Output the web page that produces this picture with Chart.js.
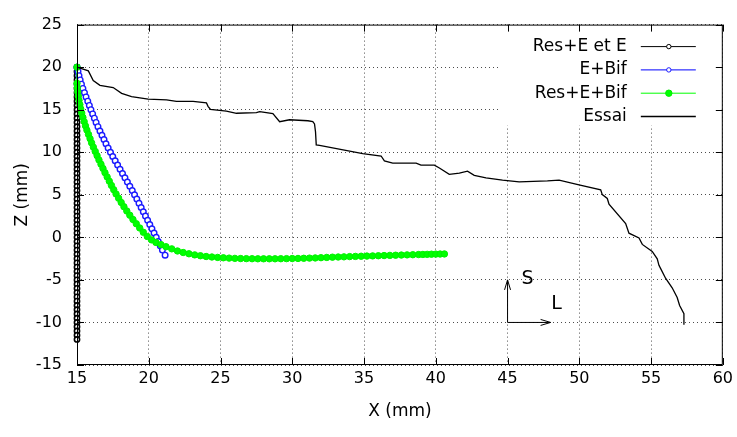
<!DOCTYPE html>
<html>
<head>
<meta charset="utf-8">
<script src="https://cdn.jsdelivr.net/npm/chart.js@4.4.0/dist/chart.umd.min.js"></script>
<style>
  body { margin: 0; background: #fff; }
</style>
</head>
<body>
<canvas id="graphe" width="737" height="437"></canvas>
<script>
'use strict';

// Res+E et E : colonne verticale a X = 15
const resEtE_x = [
  15, 15, 15, 15, 15, 15, 15, 15, 15, 15, 15, 15, 15,
  15, 15, 15, 15, 15, 15, 15, 15, 15, 15, 15, 15, 15,
  15, 15, 15, 15, 15, 15, 15, 15, 15, 15, 15, 15, 15,
  15, 15, 15, 15, 15, 15, 15, 15, 15, 15, 15, 15, 15,
  15, 15, 15, 15, 15, 15, 15, 15, 15, 15, 15, 15, 15
];
const resEtE_z = [
  20, 19.5, 19, 18.5, 18, 17.5, 17, 16.5, 16, 15.5, 15, 14.5, 14,
  13.5, 13, 12.5, 12, 11.5, 11, 10.5, 10, 9.5, 9, 8.5, 8, 7.5,
  7, 6.5, 6, 5.5, 5, 4.5, 4, 3.5, 3, 2.5, 2, 1.5, 1,
  0.5, 0, -0.5, -1, -1.5, -2, -2.5, -3, -3.5, -4, -4.5, -5, -5.5,
  -6, -6.5, -7, -7.5, -8, -8.5, -9, -9.5, -10, -10.5, -11, -11.5, -12
];

// E+Bif
const eBif_x = [
  15.00, 15.07, 15.14, 15.22, 15.31, 15.41, 15.52, 15.63, 15.75, 15.86,
  15.97, 16.09, 16.21, 16.33, 16.46, 16.60, 16.74, 16.88, 17.02, 17.17,
  17.33, 17.49, 17.66, 17.83, 18.00, 18.17, 18.34, 18.51, 18.68, 18.85,
  19.01, 19.17, 19.32, 19.47, 19.62, 19.77, 19.92, 20.07, 20.22, 20.37,
  20.52, 20.66, 20.80, 20.95, 21.14
];
const eBif_z = [
  20, 19.5, 19, 18.5, 18, 17.5, 17, 16.5, 16, 15.5,
  15, 14.5, 14, 13.5, 13, 12.5, 12, 11.5, 11, 10.5,
  10, 9.5, 9, 8.5, 8, 7.5, 7, 6.5, 6, 5.5,
  5, 4.5, 4, 3.5, 3, 2.5, 2, 1.5, 1, 0.5,
  0, -0.5, -1, -1.5, -2.1
];

// Res+E+Bif
const resEBif_x = [
  15.00, 15.00, 15.02, 15.05, 15.09, 15.14, 15.20, 15.26, 15.33, 15.41,
  15.50, 15.59, 15.69, 15.80, 15.91, 16.02, 16.14, 16.27, 16.40, 16.53,
  16.67, 16.81, 16.95, 17.10, 17.25, 17.40, 17.56, 17.72, 17.90, 18.08,
  18.27, 18.47, 18.68, 18.90, 19.13, 19.37, 19.62, 19.90, 20.20, 20.50,
  20.85, 21.20, 21.60, 22.00, 22.40, 22.80, 23.20, 23.60, 24.00, 24.40,
  24.80, 25.20, 25.60, 26.00, 26.40, 26.80, 27.20, 27.60, 28.00, 28.40,
  28.80, 29.20, 29.60, 30.00, 30.40, 30.80, 31.20, 31.60, 32.00, 32.40,
  32.80, 33.20, 33.60, 34.00, 34.40, 34.80, 35.20, 35.60, 36.00, 36.40,
  36.80, 37.20, 37.60, 38.00, 38.40, 38.80, 39.10, 39.40, 39.70, 40.00,
  40.30, 40.60
];
const resEBif_z = [
  20.0, 18.1, 17.6, 17.1, 16.6, 16.1, 15.6, 15.1, 14.6, 14.1,
  13.6, 13.1, 12.6, 12.1, 11.6, 11.1, 10.6, 10.1, 9.6, 9.1,
  8.6, 8.1, 7.6, 7.1, 6.6, 6.1, 5.6, 5.1, 4.6, 4.1,
  3.6, 3.1, 2.6, 2.1, 1.6, 1.1, 0.6, 0.1, -0.3, -0.6,
  -0.85, -1.1, -1.35, -1.6, -1.78, -1.93, -2.06, -2.16, -2.25, -2.31,
  -2.36, -2.40, -2.44, -2.47, -2.49, -2.50, -2.51, -2.52, -2.52, -2.52,
  -2.52, -2.51, -2.50, -2.49, -2.48, -2.46, -2.44, -2.42, -2.39, -2.36,
  -2.33, -2.31, -2.29, -2.26, -2.24, -2.22, -2.20, -2.18, -2.16, -2.14,
  -2.12, -2.10, -2.08, -2.06, -2.04, -2.02, -2.01, -2.00, -1.98, -1.97,
  -1.96, -1.95
];

// Essai (mesure)
const essai_x = [
  15.00, 15.79, 16.13, 16.60, 17.52, 18.11, 18.80, 19.96, 21.24, 21.93,
  23.09, 24.02, 24.13, 24.30, 25.41, 26.11, 27.50, 27.73, 28.65, 29.12,
  29.81, 31.09, 31.43, 31.55, 31.62, 31.67, 31.90, 34.91, 36.19, 36.42,
  37.00, 38.63, 38.97, 39.90, 40.25, 40.94, 41.64, 42.21, 42.68, 43.50,
  44.65, 45.81, 47.78, 48.59, 49.98, 51.49, 51.60, 51.95, 52.07, 53.23,
  53.46, 54.16, 54.39, 55.08, 55.43, 55.55, 55.67, 56.01, 56.47, 56.82,
  56.99, 57.29, 57.29
];
const essai_z = [
  20.00, 19.56, 18.43, 17.86, 17.60, 16.92, 16.54, 16.24, 16.16, 15.97,
  15.97, 15.79, 15.40, 15.03, 14.84, 14.58, 14.66, 14.77, 14.54, 13.59,
  13.82, 13.70, 13.61, 13.33, 12.39, 10.87, 10.80, 9.85, 9.56, 8.99,
  8.72, 8.72, 8.49, 8.49, 8.15, 7.40, 7.55, 7.78, 7.29, 6.98,
  6.72, 6.53, 6.64, 6.72, 6.16, 5.59, 5.02, 4.57, 3.89, 1.62,
  0.49, -0.07, -0.83, -1.66, -2.53, -3.29, -3.67, -4.80, -5.93, -7.07,
  -8.01, -8.96, -10.27
];

const xTicks = [15, 20, 25, 30, 35, 40, 45, 50, 55, 60];
const zTicks = [-15, -10, -5, 0, 5, 10, 15, 20, 25];

// Fleches S / L (coordonnees en mm)
const repereOrigine = [45, -10];
const repereS = [45, -5];
const repereL = [48, -10];

const legende = ['Res+E et E', 'E+Bif', 'Res+E+Bif', 'Essai'];

function points(xs, zs) {
  return xs.map((x, i) => ({ x: x, y: zs[i] }));
}

Chart.defaults.font.family = 'DejaVu Sans';
Chart.defaults.color = '#000';

// cache blanc derriere la legende, ticks interieurs, cadre, fleches, legende
const decor = {
  id: 'decor',
  beforeDatasetsDraw(chart) {
    const { ctx, chartArea: a } = chart;
    ctx.save();
    ctx.fillStyle = '#fff';
    ctx.fillRect(a.right - 224, a.top + 1, 223, 100);
    ctx.restore();
  },
  afterDraw(chart) {
    const { ctx, chartArea: a, scales } = chart;
    const sx = scales.x, sy = scales.y;
    ctx.save();
    ctx.strokeStyle = '#000';
    ctx.lineWidth = 1;
    ctx.beginPath();
    ctx.rect(a.left + 0.5, a.top + 0.5, a.right - a.left - 1, a.bottom - a.top - 1);
    ctx.stroke();

    ctx.beginPath();
    xTicks.forEach(v => {
      const px = Math.round(sx.getPixelForValue(v)) + 0.5;
      ctx.moveTo(px, a.bottom); ctx.lineTo(px, a.bottom - 7);
      ctx.moveTo(px, a.top); ctx.lineTo(px, a.top + 7);
    });
    zTicks.forEach(v => {
      const py = Math.round(sy.getPixelForValue(v)) + 0.5;
      ctx.moveTo(a.left, py); ctx.lineTo(a.left + 7, py);
      ctx.moveTo(a.right, py); ctx.lineTo(a.right - 7, py);
    });
    ctx.stroke();

    // repere S / L
    const ox = sx.getPixelForValue(repereOrigine[0]);
    const oy = sy.getPixelForValue(repereOrigine[1]);
    const sTop = sy.getPixelForValue(repereS[1]);
    const lEnd = sx.getPixelForValue(repereL[0]);
    ctx.beginPath();
    ctx.moveTo(ox, oy); ctx.lineTo(ox, sTop);
    ctx.moveTo(ox - 3, sTop + 10); ctx.lineTo(ox, sTop); ctx.lineTo(ox + 3, sTop + 10);
    ctx.moveTo(ox, oy); ctx.lineTo(lEnd, oy);
    ctx.moveTo(lEnd - 10, oy - 3); ctx.lineTo(lEnd, oy); ctx.lineTo(lEnd - 10, oy + 3);
    ctx.stroke();
    ctx.fillStyle = '#000';
    ctx.font = '19px "DejaVu Sans"';
    ctx.textAlign = 'center';
    ctx.textBaseline = 'middle';
    ctx.fillText('S', ox + 20, sTop - 1);
    ctx.fillText('L', lEnd + 6, oy - 18);

    // legende
    ctx.font = '17px "DejaVu Sans"';
    ctx.textAlign = 'right';
    const couleurs = ['#000', '#0000ff', '#00ff00', '#000'];
    chart.data.datasets.forEach((ds, i) => {
      const y = a.top + 22 + i * 23.3;
      ctx.fillStyle = '#000';
      ctx.fillText(legende[i], a.right - 96, y);
      ctx.strokeStyle = couleurs[i];
      ctx.lineWidth = i === 3 ? 1.5 : 1;
      ctx.beginPath();
      ctx.moveTo(a.right - 82, y); ctx.lineTo(a.right - 27, y);
      ctx.stroke();
      if (ds.pointRadius > 0) {
        ctx.beginPath();
        ctx.arc(a.right - 54, y, i === 2 ? 3.2 : 2.2, 0, Math.PI * 2);
        ctx.fillStyle = ds.pointBackgroundColor;
        ctx.fill();
        ctx.lineWidth = 1;
        ctx.strokeStyle = ds.pointBorderColor;
        ctx.stroke();
      }
    });
    ctx.restore();
  }
};

const ctx = document.getElementById('graphe').getContext('2d');

const graphe = new Chart(ctx, {
  type: 'scatter',
  data: {
    datasets: [{
      label: legende[0],
      data: points(resEtE_x, resEtE_z),
      showLine: true,
      clip: false,
      borderColor: '#000',
      borderWidth: 1,
      pointRadius: 2.6,
      pointBorderWidth: 1.6,
      pointBorderColor: '#000',
      pointBackgroundColor: '#fff',
      order: 3
    }, {
      label: legende[1],
      data: points(eBif_x, eBif_z),
      showLine: true,
      clip: false,
      borderColor: '#0000ff',
      borderWidth: 1,
      pointRadius: 2.8,
      pointBorderWidth: 1.4,
      pointBorderColor: '#1a1aff',
      pointBackgroundColor: '#fff',
      order: 2
    }, {
      label: legende[2],
      data: points(resEBif_x, resEBif_z),
      showLine: true,
      clip: false,
      borderColor: '#00ff00',
      borderWidth: 1,
      pointRadius: 3.2,
      pointBorderWidth: 1,
      pointBorderColor: '#00f000',
      pointBackgroundColor: '#00ff00',
      order: 1
    }, {
      label: legende[3],
      data: points(essai_x, essai_z),
      showLine: true,
      clip: false,
      borderColor: '#000',
      borderWidth: 1.3,
      pointRadius: 0,
      order: 0
    }]
  },
  options: {
    responsive: false,
    animation: false,
    layout: { padding: { left: 0, right: 13, top: 12, bottom: 0 } },
    plugins: {
      legend: { display: false },
      tooltip: { enabled: false }
    },
    scales: {
      x: {
        type: 'linear',
        min: 15,
        max: 60,
        afterBuildTicks: s => { s.ticks = xTicks.map(v => ({ value: v })); },
        afterFit: s => { s.height = 72; },
        ticks: { font: { size: 16 }, padding: 4, maxRotation: 0 },
        grid: { color: 'rgba(0,0,0,0.7)', drawTicks: false },
        border: { display: false, dash: [1, 3] },
        title: { display: true, text: 'X (mm)', font: { size: 17 }, padding: { top: 0, bottom: 15 } }
      },
      y: {
        type: 'linear',
        min: -15,
        max: 25,
        afterBuildTicks: s => { s.ticks = zTicks.map(v => ({ value: v })); },
        afterFit: s => { s.width = 77; },
        ticks: { font: { size: 16 }, padding: 15 },
        grid: { color: 'rgba(0,0,0,0.7)', drawTicks: false },
        border: { display: false, dash: [1, 3] },
        title: { display: true, text: 'Z (mm)', font: { size: 17 }, padding: { top: 12, bottom: 0 } }
      }
    }
  },
  plugins: [decor]
});
</script>
</body>
</html>
